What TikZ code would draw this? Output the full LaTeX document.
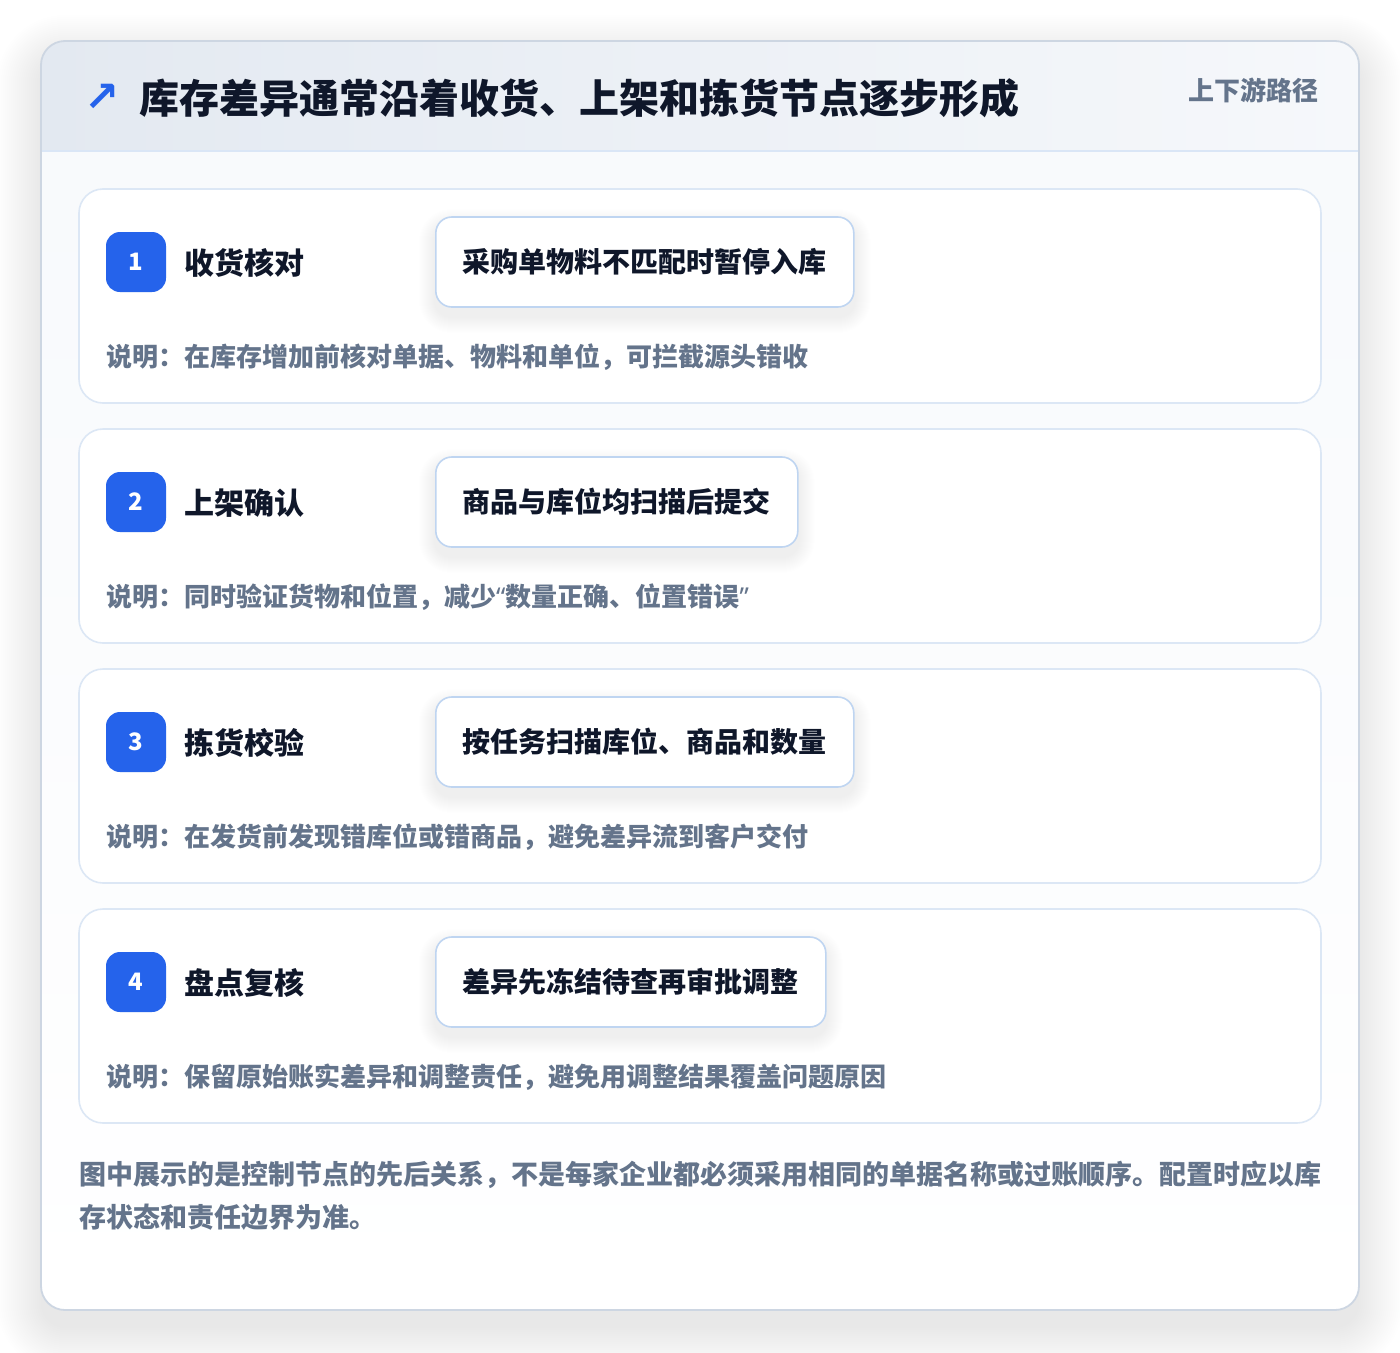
\documentclass[tikz,border=0pt]{standalone}
\usepackage{fontspec}
\setmainfont{Noto Sans CJK SC}
\newfontfamily\arrowfont{DejaVu Sans}
\newfontfamily\latinfont{Noto Sans}
\usetikzlibrary{arrows.meta,calc}
\definecolor{blue6}{HTML}{2563EB}
\definecolor{ink}{HTML}{0F172A}
\definecolor{muted}{HTML}{64748B}
\definecolor{cardline}{HTML}{DCE7F5}
\definecolor{tagline}{HTML}{BFD5F1}
\definecolor{outerline}{HTML}{CDD6E2}
\definecolor{headL}{HTML}{E3E9F1}
\definecolor{headR}{HTML}{F6F8FB}
\definecolor{bodytop}{HTML}{F7F9FC}
\definecolor{headrule}{HTML}{DAE6F6}
\pgfdeclarelayer{bg}
\pgfdeclarelayer{shad}
\pgfsetlayers{bg,shad,main}
\tikzset{
 card/.style={draw=cardline, line width=1.6pt, fill=white, rounded corners=24pt, minimum width=1242pt, minimum height=214pt, inner sep=0pt},
 badge/.style={fill=blue6, rounded corners=14pt, minimum width=60pt, minimum height=60pt, inner sep=0pt, text=white, font=\fontsize{24}{28}\selectfont\bfseries},
 steplabel/.style={anchor=west, inner sep=0pt, text=ink, font=\fontsize{30}{36}\selectfont\bfseries},
 tagbox/.style={anchor=west, draw=tagline, line width=1.6pt, fill=white, rounded corners=16pt, minimum height=90pt, inner xsep=27pt, inner ysep=0pt, text=ink, font=\fontsize{28}{34}\selectfont\bfseries},
 desc/.style={anchor=west, inner sep=0pt, text=muted, font=\fontsize{26}{32}\selectfont\bfseries},
 foot/.style={anchor=west, inner sep=0pt, text=muted, font=\fontsize{27}{42}\selectfont\bfseries},
}
\begin{document}
\begin{tikzpicture}[x=1pt,y=-1pt]
\useasboundingbox (0,0) rectangle (1400,1352);
\begin{pgfonlayer}{bg}
\fill[white] (0,0) rectangle (1400,1352);
% outer shadow
\foreach \e [evaluate=\e as \r using 24+\e] in {0,2,...,44} {
  \fill[black,opacity=0.0045,rounded corners=\r pt] (41-\e,41+18-\e) rectangle (1359+\e,1310+18+\e);
}
% outer card body
\path[rounded corners=24pt, top color=bodytop, bottom color=white] (41,41) rectangle (1359,1310);
\begin{scope}
  \clip[rounded corners=24pt] (41,41) rectangle (1359,1310);
  \path[left color=headL, right color=headR] (41,41) rectangle (1359,151);
\end{scope}
\draw[headrule, line width=1.6pt] (41,151) -- (1359,151);
\draw[outerline, line width=1.8pt, rounded corners=24pt] (41,41) rectangle (1359,1310);
% cards
\node[card] (card1) at (700,296) {};
\node[card] (card2) at (700,536) {};
\node[card] (card3) at (700,776) {};
\node[card] (card4) at (700,1016) {};
\end{pgfonlayer}

% header
\node[inner sep=0pt, text=blue6, font=\arrowfont\fontsize{42}{46}\selectfont\bfseries] (icon) at (102,98) {↗};
\node[anchor=west, inner sep=0pt, text=ink, font=\fontsize{40}{48}\selectfont\bfseries] (title) at (139,98) {库存差异通常沿着收货、上架和拣货节点逐步形成};
\node[anchor=east, inner sep=0pt, text=muted, font=\fontsize{26}{32}\selectfont\bfseries] (path) at (1319,90) {上下游路径};

% step 1
\node[badge] (b1) at (136,262) {1};
\node[steplabel] (l1) at (184,263) {收货核对};
\node[tagbox] (t1) at (435,262) {采购单物料不匹配时暂停入库};
\node[desc] (d1) at (106,357) {说明：在库存增加前核对单据、物料和单位，可拦截源头错收};
% step 2
\node[badge] (b2) at (136,502) {2};
\node[steplabel] (l2) at (184,503) {上架确认};
\node[tagbox] (t2) at (435,502) {商品与库位均扫描后提交};
\node[desc] (d2) at (106,597) {说明：同时验证货物和位置，减少{\latinfont “}数量正确、位置错误{\latinfont ”}};
% step 3
\node[badge] (b3) at (136,742) {3};
\node[steplabel] (l3) at (184,743) {拣货校验};
\node[tagbox] (t3) at (435,742) {按任务扫描库位、商品和数量};
\node[desc] (d3) at (106,837) {说明：在发货前发现错库位或错商品，避免差异流到客户交付};
% step 4
\node[badge] (b4) at (136,982) {4};
\node[steplabel] (l4) at (184,983) {盘点复核};
\node[tagbox] (t4) at (435,982) {差异先冻结待查再审批调整};
\node[desc] (d4) at (106,1077) {说明：保留原始账实差异和调整责任，避免用调整结果覆盖问题原因};

% tag shadows
\begin{pgfonlayer}{shad}
\foreach \t in {t1,t2,t3,t4} {
  \foreach \e [evaluate=\e as \r using 16+\e] in {1,2,...,16} {
    \fill[black,opacity=0.005,rounded corners=\r pt] ($(\t.north west)+(-\e,-\e+9)$) rectangle ($(\t.south east)+(\e,\e+9)$);
  }
}
\end{pgfonlayer}

% footer
\node[foot] (f1) at (79,1175) {图中展示的是控制节点的先后关系，不是每家企业都必须采用相同的单据名称或过账顺序。配置时应以库};
\node[foot] (f2) at (79,1217) {存状态和责任边界为准。};
\end{tikzpicture}
\end{document}
